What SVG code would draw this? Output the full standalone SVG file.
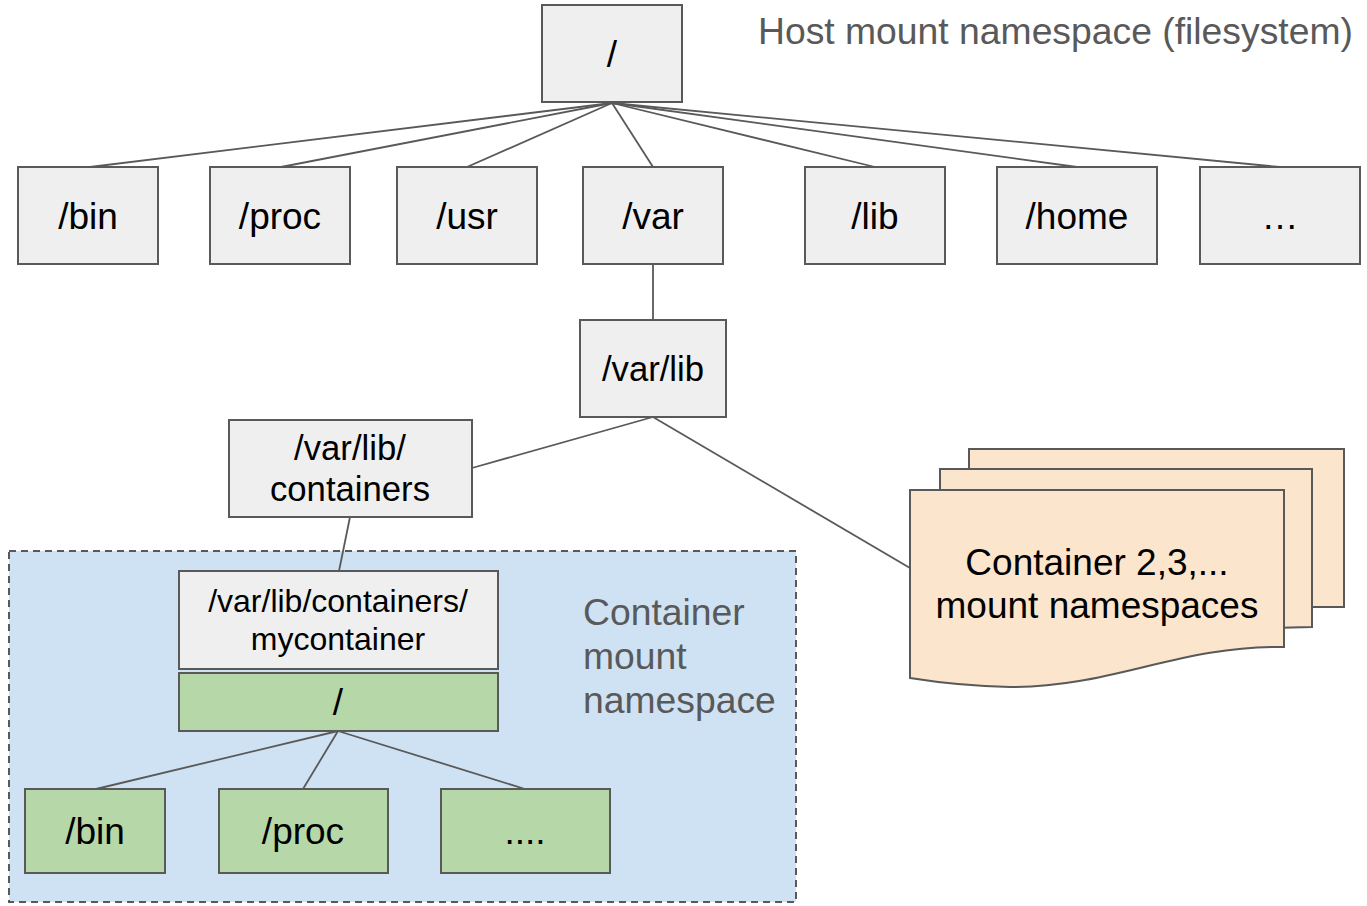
<svg xmlns="http://www.w3.org/2000/svg" width="1367" height="906" viewBox="0 0 1367 906">
<style>
  .box{fill:#efefef;stroke:#595959;stroke-width:2}
  .green{fill:#b6d7a8;stroke:#595959;stroke-width:2}
  .doc{fill:#fce5cd;stroke:#595959;stroke-width:2}
  .lbl{font-family:"Liberation Sans",Arial,sans-serif;font-size:37px;fill:#000;text-anchor:middle}
  .m{font-size:34.7px}
  .s{font-size:32px}
  .note{font-family:"Liberation Sans",Arial,sans-serif;font-size:37.3px;fill:#595959}
  .conn line{stroke:#595959;stroke-width:1.8;fill:none}
</style>
<rect width="1367" height="906" fill="#ffffff"/>

<g id="container-ns">
  <rect x="9" y="551" width="787" height="351" fill="#cfe2f3" stroke="#595959" stroke-width="2" stroke-dasharray="7,5"/>
  <text class="note" x="583" y="625">Container</text>
  <text class="note" x="583" y="669">mount</text>
  <text class="note" x="583" y="713">namespace</text>
</g>

<g id="title"><text class="note" x="758" y="44">Host mount namespace (filesystem)</text></g>

<g class="conn" id="connectors">
  <line x1="612" y1="103" x2="90" y2="167"/>
  <line x1="612" y1="103" x2="281" y2="167"/>
  <line x1="612" y1="103" x2="467" y2="167"/>
  <line x1="612" y1="103" x2="653" y2="167"/>
  <line x1="612" y1="103" x2="875" y2="167"/>
  <line x1="612" y1="103" x2="1077" y2="167"/>
  <line x1="612" y1="103" x2="1280" y2="167"/>
  <line x1="653" y1="264" x2="653" y2="320"/>
  <line x1="653" y1="417" x2="472" y2="468"/>
  <line x1="653" y1="417" x2="910" y2="568"/>
  <line x1="350" y1="517" x2="339" y2="571"/>
  <line x1="338" y1="731" x2="96" y2="789"/>
  <line x1="338" y1="731" x2="303" y2="789"/>
  <line x1="338" y1="731" x2="525" y2="789"/>
</g>

<g id="root"><rect class="box" x="542" y="5" width="140" height="97"/><text class="lbl" x="612" y="67">/</text></g>
<g id="bin"><rect class="box" x="18" y="167" width="140" height="97"/><text class="lbl" x="88" y="229">/bin</text></g>
<g id="proc"><rect class="box" x="210" y="167" width="140" height="97"/><text class="lbl" x="280" y="229">/proc</text></g>
<g id="usr"><rect class="box" x="397" y="167" width="140" height="97"/><text class="lbl" x="467" y="229">/usr</text></g>
<g id="var"><rect class="box" x="583" y="167" width="140" height="97"/><text class="lbl" x="653" y="229">/var</text></g>
<g id="lib"><rect class="box" x="805" y="167" width="140" height="97"/><text class="lbl" x="875" y="229">/lib</text></g>
<g id="home"><rect class="box" x="997" y="167" width="160" height="97"/><text class="lbl" x="1077" y="229">/home</text></g>
<g id="more"><rect class="box" x="1200" y="167" width="160" height="97"/><text class="lbl" x="1280" y="229">…</text></g>

<g id="varlib"><rect class="box" x="580" y="320" width="146" height="97"/><text class="lbl m" x="653" y="381">/var/lib</text></g>
<g id="containers"><rect class="box" x="229" y="420" width="243" height="97"/><text class="lbl m" x="350" y="460">/var/lib/</text><text class="lbl m" x="350" y="501">containers</text></g>

<g id="mycontainer"><rect class="box" x="179" y="571" width="319" height="98"/><text class="lbl s" x="338" y="612">/var/lib/containers/</text><text class="lbl s" x="338" y="650">mycontainer</text></g>
<g id="c-root"><rect class="green" x="179" y="673" width="319" height="58"/><text class="lbl" x="338" y="715">/</text></g>
<g id="c-bin"><rect class="green" x="25" y="789" width="140" height="84"/><text class="lbl" x="95" y="844">/bin</text></g>
<g id="c-proc"><rect class="green" x="219" y="789" width="169" height="84"/><text class="lbl" x="303" y="844">/proc</text></g>
<g id="c-more"><rect class="green" x="441" y="789" width="169" height="84"/><text class="lbl" x="525" y="844">....</text></g>

<g id="other-containers">
  <path class="doc" d="M969,449 H1344 V607 H1300 L969,607 Z"/>
  <path class="doc" d="M940,469 H1312 V627 L1270,628 H940 Z"/>
  <path class="doc" d="M910,490 H1284 V647 C1180,645 1110,688 1010,687 C965,686 935,682 910,678 Z"/>
  <text class="lbl" x="1097" y="575">Container 2,3,...</text>
  <text class="lbl" x="1097" y="618">mount namespaces</text>
</g>
</svg>
